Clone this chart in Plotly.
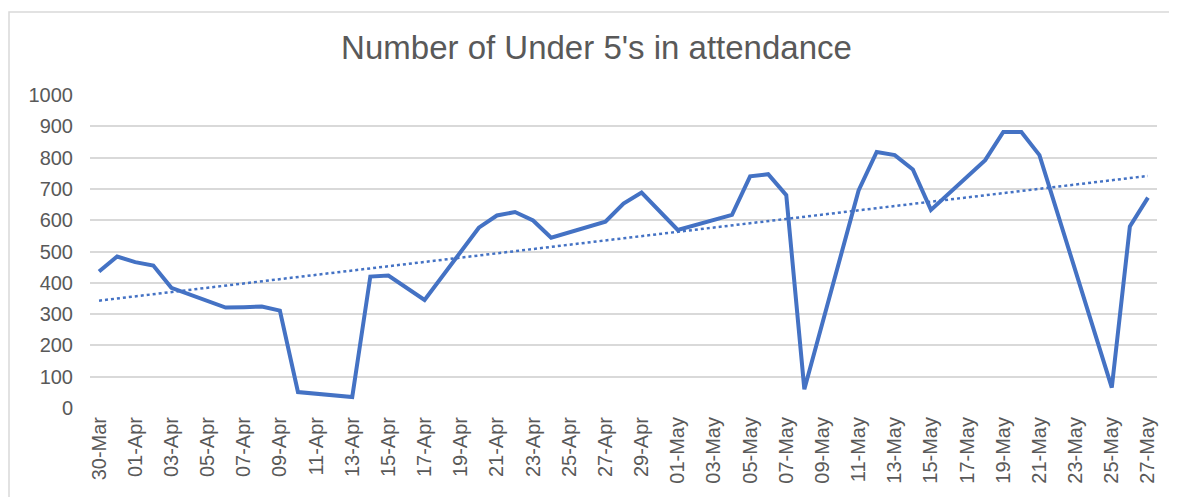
import numpy as np
import pandas as pd
import plotly.graph_objects as go

# ---- data ----
dates = [
    "2020-03-30", "2020-03-31", "2020-04-01", "2020-04-02", "2020-04-03",
    "2020-04-06", "2020-04-07", "2020-04-08", "2020-04-09", "2020-04-10",
    "2020-04-13", "2020-04-14", "2020-04-15", "2020-04-17",
    "2020-04-20", "2020-04-21", "2020-04-22", "2020-04-23", "2020-04-24",
    "2020-04-27", "2020-04-28", "2020-04-29", "2020-05-01",
    "2020-05-04", "2020-05-05", "2020-05-06", "2020-05-07", "2020-05-08",
    "2020-05-11", "2020-05-12", "2020-05-13", "2020-05-14", "2020-05-15",
    "2020-05-18", "2020-05-19", "2020-05-20", "2020-05-21",
    "2020-05-25", "2020-05-26", "2020-05-27",
]
attendance = [
    436, 484, 466, 455, 384,
    321, 322, 324, 311, 51,
    35, 420, 423, 345,
    576, 615, 626, 599, 544,
    595, 653, 688, 569,
    617, 740, 747, 680, 60,
    695, 818, 808, 762, 633,
    792, 882, 882, 808,
    65, 580, 672,
]
y_ticks = [0, 100, 200, 300, 400, 500, 600, 700, 800, 900, 1000]
title_text = "Number of Under 5's in attendance"

# ---- linear trendline (least squares over date values) ----
dt = pd.to_datetime(dates)
days = (dt - dt[0]).days.values.astype(float)
slope, intercept = np.polyfit(days, np.array(attendance, dtype=float), 1)
trend_x = [dt[0], dt[-1]]
trend_y = [intercept, intercept + slope * days[-1]]

BLUE = "#4472C4"
GREY = "#595959"
FONT = "Liberation Sans, Arial, sans-serif"

# page body has an 8px margin, so the figure is sized to the remaining area
W, H = 1169, 489
ML, MT, PW, PH = 82, 87, 1067, 313

fig = go.Figure()
fig.add_trace(go.Scatter(
    x=dt, y=attendance, mode="lines",
    line=dict(color=BLUE, width=4, shape="linear"),
    showlegend=False, hoverinfo="x+y",
))
fig.add_trace(go.Scatter(
    x=trend_x, y=trend_y, mode="lines",
    line=dict(color=BLUE, width=2.5, dash="dot"),
    showlegend=False, hoverinfo="skip",
))

fig.update_layout(
    width=W, height=H,
    margin=dict(l=ML, r=W - ML - PW, t=MT, b=H - MT - PH),
    paper_bgcolor="white", plot_bgcolor="white",
    font=dict(family=FONT, color=GREY, size=20),
    title=dict(text=title_text, x=588.5 / W, xanchor="center",
               y=1 - 39 / H, yanchor="middle",
               font=dict(family=FONT, size=33, color=GREY)),
    xaxis=dict(
        type="date",
        range=["2020-03-29 12:00", "2020-05-27 12:00"],
        tickmode="linear", tick0="2020-03-30", dtick=2 * 86400000,
        tickformat="%d-%b", tickangle=-90,
        showgrid=False, showline=False, zeroline=False,
        ticks="", tickfont=dict(size=20, color=GREY), ticklabelstandoff=4,
    ),
    yaxis=dict(
        range=[0, 1000], tickvals=y_ticks,
        showgrid=True, gridcolor="#D9D9D9", gridwidth=1.5,
        zeroline=False, showline=False, ticks="",
        tickfont=dict(size=20, color=GREY), ticklabelstandoff=16,
    ),
    shapes=[dict(
        type="rect", xref="paper", yref="paper",
        x0=(1 - ML) / PW, x1=1.1, y0=-0.5, y1=(MT + PH - 4) / PH,
        line=dict(color="#D9D9D9", width=1.5), fillcolor="rgba(0,0,0,0)",
        layer="below",
    )],
)

fig.write_html("out.html")
